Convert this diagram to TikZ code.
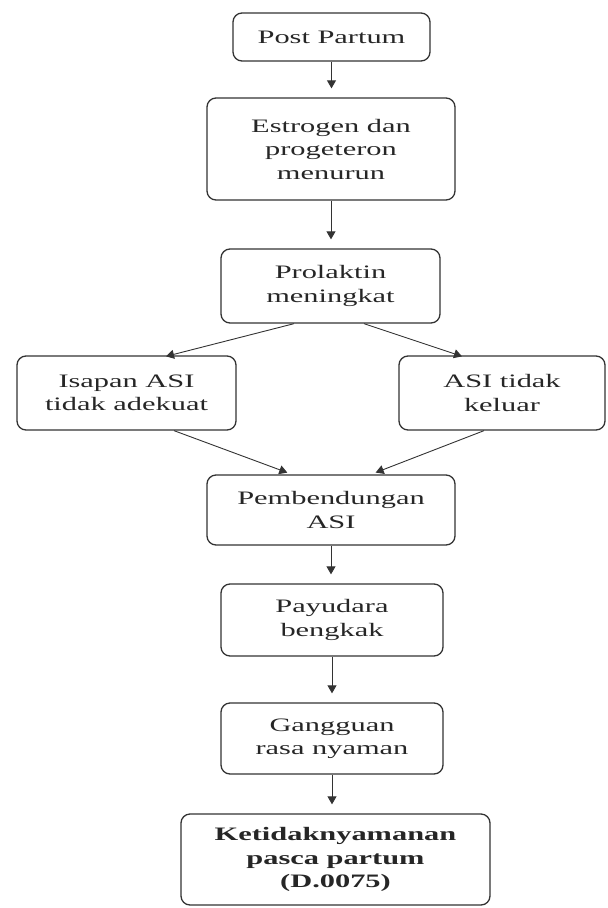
\documentclass[tikz,border=0pt]{standalone}
\usepackage{fontspec}
\newfontfamily\widefont[FakeStretch=1.6]{Liberation Serif}
\usetikzlibrary{arrows.meta}
\tikzset{
  box/.style={draw=black!80, line width=1.3pt, rounded corners=9pt, align=center,
    inner sep=0pt, text=black!85, font=\widefont\fontsize{19pt}{23.5pt}\selectfont},
  arr/.style={draw=black!80, line width=0.9pt, -{Triangle[length=8pt,width=9pt]}},
  varr/.style={arr, shorten >=9pt}
}
\begin{document}
\begin{tikzpicture}[x=1pt,y=-1pt]
\useasboundingbox (0,0) rectangle (608,908);
\node[box, minimum width=197pt, minimum height=48pt] (pp) at (331.5,37) {Post Partum};
\node[box, minimum width=248pt, minimum height=102pt] (es) at (331,149) {Estrogen dan\\progeteron\\menurun};
\node[box, minimum width=219pt, minimum height=74pt] (pr) at (330.5,286) {Prolaktin\\meningkat};
\node[box, minimum width=219pt, minimum height=74pt] (is) at (126.5,393) {Isapan ASI\\tidak adekuat};
\node[box, minimum width=206pt, minimum height=74pt] (at) at (502,393) {ASI tidak\\keluar};
\node[box, minimum width=248pt, minimum height=70pt] (pb) at (331,510) {Pembendungan\\ASI};
\node[box, minimum width=222pt, minimum height=72pt] (py) at (332,620) {Payudara\\bengkak};
\node[box, minimum width=222pt, minimum height=71pt] (gg) at (332,738.5) {Gangguan\\rasa nyaman};
\node[box, minimum width=309pt, minimum height=91pt, font=\widefont\bfseries\fontsize{19pt}{23.5pt}\selectfont] (kt) at (335.5,859.5) {Ketidaknyamanan\\pasca partum\\(D.0075)};

\draw[varr] (pp.south) -- (pp.south |- es.north);
\draw[varr] (es.south) -- (es.south |- pr.north);
\draw[arr] ([xshift=-36.5pt]pr.south) -- ([xshift=39.5pt,yshift=-1pt]is.north);
\draw[arr] ([xshift=33.5pt]pr.south) -- ([xshift=-40pt,yshift=-1pt]at.north);
\draw[arr, shorten >=5pt] ([xshift=47.5pt]is.south) -- ([xshift=-39pt]pb.north);
\draw[arr, shorten >=5pt] ([xshift=-18pt]at.south) -- ([xshift=40pt]pb.north);
\draw[varr] (pb.south) -- (pb.south |- py.north);
\draw[varr] (py.south) -- (py.south |- gg.north);
\draw[varr] (gg.south) -- (gg.south |- kt.north);
\end{tikzpicture}
\end{document}
